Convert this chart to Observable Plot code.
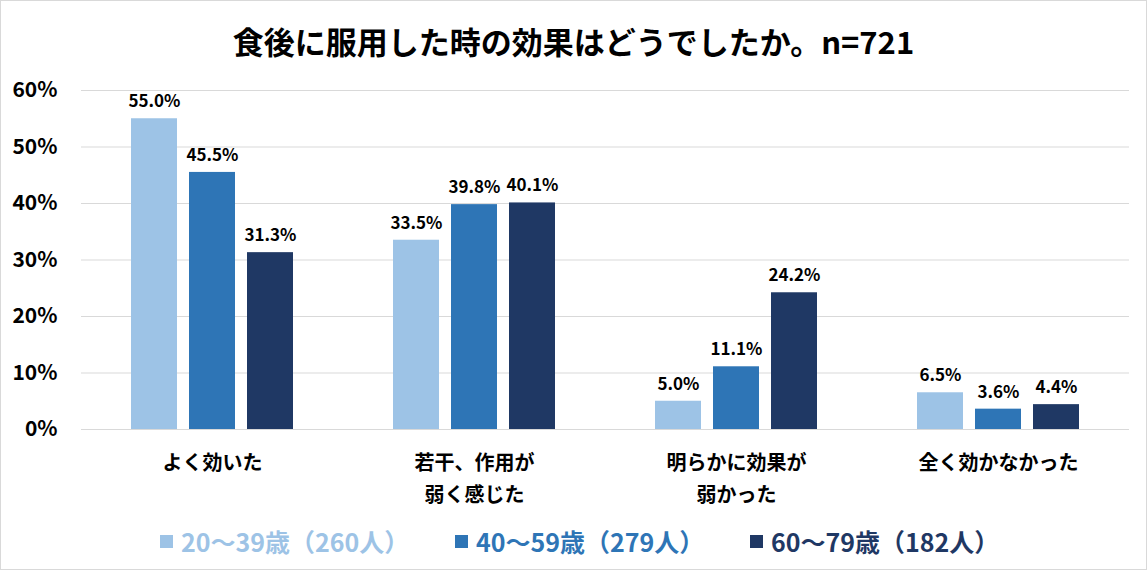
<!DOCTYPE html>
<html><head><meta charset="utf-8">
<script src="https://cdn.jsdelivr.net/npm/d3@7"></script>
<script src="https://cdn.jsdelivr.net/npm/@observablehq/plot@0.6"></script>
<style>
html,body{margin:0;padding:0;background:#fff;}
#wrap{position:relative;width:1145px;height:568px;border:1px solid #d9d9d9;font-family:"Noto Sans CJK JP",sans-serif;overflow:hidden;}
#title{height:72px;line-height:80px;text-align:center;font-size:31px;font-weight:bold;color:#000;}
#legend{display:flex;justify-content:flex-start;padding-left:159px;height:56px;align-items:center;font-size:25px;font-weight:bold;}
.item{display:flex;align-items:center;margin-right:0;}
.sw{width:13px;height:13px;margin-right:8px;}
</style></head>
<body><div id="wrap"><div id="title"></div><div id="chart"></div><div id="legend"></div></div>
<script>
const title = "食後に服用した時の効果はどうでしたか。n=721";
const categories = ["よく効いた", "若干、作用が\n弱く感じた", "明らかに効果が\n弱かった", "全く効かなかった"];
const groups = ["20～39歳（260人）", "40～59歳（279人）", "60～79歳（182人）"];
const values20 = [55.0, 33.5, 5.0, 6.5];
const values40 = [45.5, 39.8, 11.1, 3.6];
const values60 = [31.3, 40.1, 24.2, 4.4];
const colors = ["#9DC3E6", "#2E75B6", "#1F3864"];
const yTicks = [0, 10, 20, 30, 40, 50, 60];

const series = [values20, values40, values60];
const data = [];
categories.forEach((c, i) => groups.forEach((g, j) => data.push({cat: c, grp: g, v: series[j][i]})));

document.getElementById("title").textContent = title;

const chart = Plot.plot({
  width: 1145, height: 440,
  marginLeft: 79, marginRight: 16, marginTop: 17, marginBottom: 84,
  style: {fontFamily: '"Noto Sans CJK JP", sans-serif', color: "#000"},
  fx: {domain: categories, padding: 0, label: null},
  x: {domain: groups, paddingInner: 0.2, paddingOuter: 0.85, axis: null},
  y: {domain: [0, 60], label: null},
  color: {domain: groups, range: colors},
  marks: [
    Plot.gridY(yTicks, {stroke: "#d9d9d9", strokeOpacity: 1, strokeWidth: 1}),
    Plot.axisY(yTicks, {tickSize: 0, tickPadding: 24, fontSize: 21, fontWeight: "bold", tickFormat: d => d + "%", label: null}),
    Plot.axisFx({anchor: "bottom", tickSize: 0, tickPadding: 18, fontSize: 20, fontWeight: "bold", lineHeight: 1.6, label: null, textAnchor: "middle"}),
    Plot.barY(data, {fx: "cat", x: "grp", y: "v", fill: "grp"}),
    Plot.text(data, {fx: "cat", x: "grp", y: "v", text: d => d.v.toFixed(1) + "%", dy: -17, fontSize: 17, fontWeight: "bold", fill: "#000"})
  ]
});
document.getElementById("chart").appendChild(chart);

const leg = document.getElementById("legend");
const gaps = [295, 295, 0];
groups.forEach((g, j) => {
  const it = document.createElement("div");
  it.className = "item";
  it.style.width = j < 2 ? gaps[j] + "px" : "auto";
  it.style.color = colors[j];
  const sw = document.createElement("div");
  sw.className = "sw"; sw.style.background = colors[j];
  const t = document.createElement("span"); t.textContent = g;
  it.appendChild(sw); it.appendChild(t); leg.appendChild(it);
});
</script></body></html>
